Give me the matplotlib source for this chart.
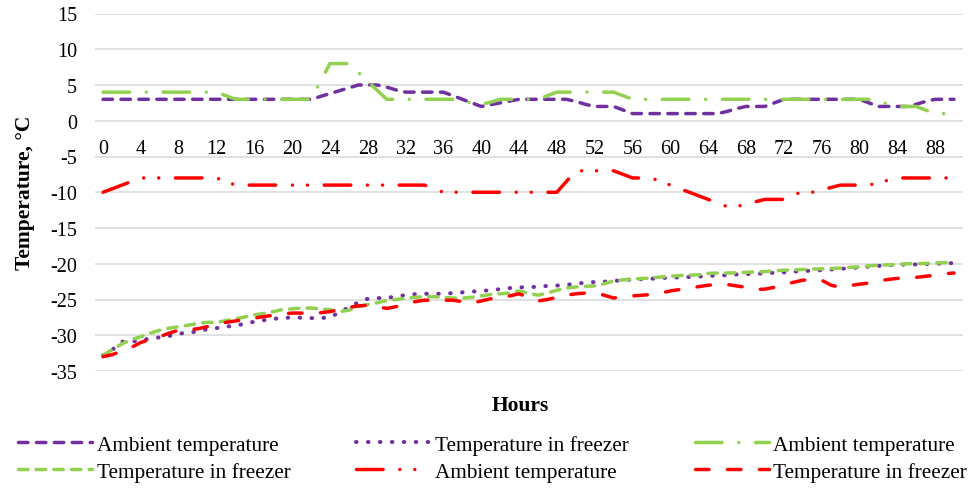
import matplotlib
matplotlib.use("Agg")
import matplotlib.pyplot as plt

plt.rcParams['font.family'] = ['Liberation Serif', 'DejaVu Serif']
plt.rcParams['lines.scale_dashes'] = False
plt.rcParams['axes.unicode_minus'] = False

hours = list(range(0, 91))
tick_hours = list(range(0, 89, 4))

labels = ["Ambient temperature", "Temperature in freezer",
          "Ambient temperature", "Temperature in freezer",
          "Ambient temperature", "Temperature in freezer"]

# Series 1: purple ambient
purple_ambient = [3]*23 + [3.4, 3.8, 4.2, 4.6, 5, 5, 5, 4.7, 4.3, 4,
                  4, 4, 4, 4, 3.5, 3, 2.5, 2, 2.25, 2.5, 2.75, 3,
                  3, 3, 3, 3, 3, 2.7, 2.3, 2, 2, 2, 1.5, 1,
                  1, 1, 1, 1, 1, 1, 1, 1, 1, 1.3, 1.7, 2,
                  2, 2, 2.5, 3, 3, 3, 3, 3, 3, 3, 3, 3,
                  2.5, 2, 2, 2, 2, 2.3, 2.7, 3, 3, 3]
# Series 2: purple freezer
purple_freezer = [-32.8, -32.0, -30.9, -30.9, -30.7, -30.45, -30.3, -30.1, -29.8, -29.6,
                  -29.5, -29.15, -29.0, -28.8, -28.65, -28.4, -28.1, -27.9, -27.7, -27.6,
                  -27.5, -27.55, -27.6, -27.6, -27.5, -26.8, -26.1, -25.4, -24.9, -24.8,
                  -24.8, -24.55, -24.4, -24.25, -24.2, -24.2, -24.2, -24.1, -24.0, -23.9,
                  -23.8, -23.7, -23.55, -23.4, -23.3, -23.3, -23.2, -23.1, -23.05, -22.95,
                  -22.8, -22.65, -22.55, -22.5, -22.4, -22.3, -22.2, -22.15, -22.1, -22.0,
                  -21.95, -21.9, -21.85, -21.8, -21.7, -21.65, -21.6, -21.5, -21.45, -21.4,
                  -21.35, -21.25, -21.2, -21.1, -21.05, -20.95, -20.9, -20.8, -20.7, -20.65,
                  -20.5, -20.4, -20.3, -20.2, -20.15, -20.1, -20.1, -20.05, -20.0, -19.95,
                  -19.9]
# Series 3: green ambient
green_ambient = [4]*13 + [3.5, 3, 3, 3, 3, 3, 3, 3, 3, 3, 5.5, 8, 8, 8,
                 6.75, 5.5, 4.25, 3, 3, 3, 3, 3, 3, 3, 3, 2.7, 2.5, 2.3, 2.6, 3,
                 3, 3, 3, 3, 3.5, 4, 4, 4, 4, 4, 4, 4, 3.5, 3,
                 3, 3, 3, 3, 3, 3, 3, 3, 3, 3, 3, 3, 3, 3, 3, 3, 3, 3, 3, 3, 3, 3, 3, 3, 3,
                 2.7, 2.35, 2, 2, 2, 1.5, 1, 1, 1]
# Series 4: green freezer
green_freezer = [-32.8, -32.0, -31.2, -30.6, -30.2, -29.7, -29.3, -29.0, -28.8, -28.6,
                 -28.35, -28.2, -28.2, -27.95, -27.7, -27.45, -27.15, -26.95, -26.7, -26.4,
                 -26.3, -26.2, -26.2, -26.3, -26.45, -26.7, -26.5, -26.0, -25.7, -25.45,
                 -25.15, -25.0, -24.8, -24.7, -24.6, -24.6, -24.7, -24.8, -24.8, -24.7,
                 -24.5, -24.3, -24.2, -24.1, -23.8, -24.1, -24.4, -24.1, -23.7, -23.4,
                 -23.25, -23.15, -23.1, -22.8, -22.4, -22.25, -22.15, -22.05, -22.0, -21.85,
                 -21.75, -21.65, -21.6, -21.55, -21.35, -21.3, -21.3, -21.25, -21.2, -21.15,
                 -21.1, -21.0, -20.9, -20.85, -20.8, -20.75, -20.7, -20.65, -20.6, -20.5,
                 -20.45, -20.3, -20.2, -20.15, -20.1, -20.0, -20.0, -19.95, -19.9, -19.85,
                 -19.8]
# Series 5: red ambient
red_ambient = [-10, -9.5, -9, -8.5, -8, -8, -8, -8, -8, -8, -8, -8, -8, -8.5, -9,
               -9, -9, -9, -9, -9, -9, -9, -9, -9, -9, -9, -9, -9, -9, -9, -9, -9, -9, -9, -9,
               -9.5, -10, -10, -10, -10, -10, -10, -10, -10, -10, -10, -10, -10, -10,
               -8.5, -7, -7, -7, -7, -7, -7.5, -8, -8, -8,
               -8.5, -9, -9.5, -10, -10.5, -11, -11.5, -12, -12, -11.67, -11.33, -11,
               -11, -11, -10.3, -10, -10, -9.67, -9.33, -9, -9, -9, -9,
               -8.67, -8.33, -8, -8, -8, -8, -8, -8, -8]
# Series 6: red freezer
red_freezer = [-33.0, -32.7, -32.2, -31.7, -31.0, -30.6, -30.2, -29.7, -29.3, -29.2,
               -29.1, -28.8, -28.4, -28.2, -28.0, -27.8, -27.6, -27.4, -27.2, -27.0,
               -26.9, -26.9, -26.9, -26.85, -26.7, -26.4, -26.1, -25.9, -25.8, -26.0,
               -26.25, -26.0, -25.6, -25.3, -25.1, -25.1, -25.1, -25.1, -25.3, -25.5,
               -25.2, -24.9, -24.8, -24.5, -24.2, -24.7, -25.2, -25.0, -24.7, -24.4,
               -24.2, -24.1, -24.05, -24.4, -24.8, -24.6, -24.5, -24.4, -24.3, -24.1,
               -23.8, -23.6, -23.4, -23.2, -23.0, -22.9, -22.9, -23.1, -23.3, -23.6,
               -23.55, -23.3, -22.9, -22.6, -22.3, -22.25, -22.3, -23.0, -23.3, -23.05,
               -22.85, -22.7, -22.4, -22.2, -22.05, -22.0, -21.9, -21.75, -21.6, -21.4,
               -21.3]

PURPLE = '#7030A0'
GREEN = '#92D050'
RED = '#FF0000'
LW = 2.5

series = [
    (purple_ambient, PURPLE, LW, (0, (6.8, 6.1))),
    (purple_freezer, PURPLE, 2.9, (0, (0.4, 8.2))),
    (green_ambient, GREEN, LW, (0, (19.1, 12.05, 0.01, 12.05))),
    (green_freezer, GREEN, LW, (0, (6.8, 5.9))),
    (red_ambient, RED, LW, (0, (19.1, 12.05, 0.01, 10.8, 0.01, 12.05))),
    (red_freezer, RED, LW, (0, (9.7, 13.3))),
]

fig = plt.figure(figsize=(9.73, 4.89), dpi=100)
ax = fig.add_axes([95/973, 1-372/489, 868/973, 357.5/489])

handles = []
for (vals, col, lw, ls), lab in zip(series, labels):
    ln, = ax.plot(hours, vals, color=col, lw=lw, linestyle=ls,
                  dash_capstyle='round', solid_capstyle='round',
                  dash_joinstyle='round', label=lab)
    handles.append(ln)

ax.set_xlim(-0.85, 90.95)
ax.set_ylim(-35, 15)
ax.set_yticks(range(-35, 16, 5))
ax.set_xticks(tick_hours)
ax.set_xticklabels([str(t) for t in tick_hours])
ax.grid(axis='y', color='#D9D9D9', lw=1.1)
ax.set_axisbelow(True)
for s in ['top', 'right', 'left']:
    ax.spines[s].set_visible(False)
ax.spines['bottom'].set_position(('data', 0))
ax.spines['bottom'].set_visible(False)
ax.tick_params(axis='both', length=0, labelsize=14.5)
ax.tick_params(axis='x', pad=13)
ax.tick_params(axis='y', pad=13)

ax.set_ylabel('Temperature, °C', fontsize=15.5, fontweight='bold', labelpad=11)
ax.set_xlabel('Hours', fontsize=15.5, fontweight='bold')
ax.xaxis.set_label_coords(0.49, -0.068)

order = [0, 3, 1, 4, 2, 5]
leg = fig.legend([handles[i] for i in order], [labels[i] for i in order],
                 ncol=3, loc='upper left', bbox_to_anchor=(18/973, 1-436/489),
                 frameon=False, fontsize=15.3, handlelength=3.5,
                 handletextpad=0.2, columnspacing=3.1, labelspacing=0.33,
                 borderaxespad=0, borderpad=0)

fig.savefig('out.png', dpi=100)
